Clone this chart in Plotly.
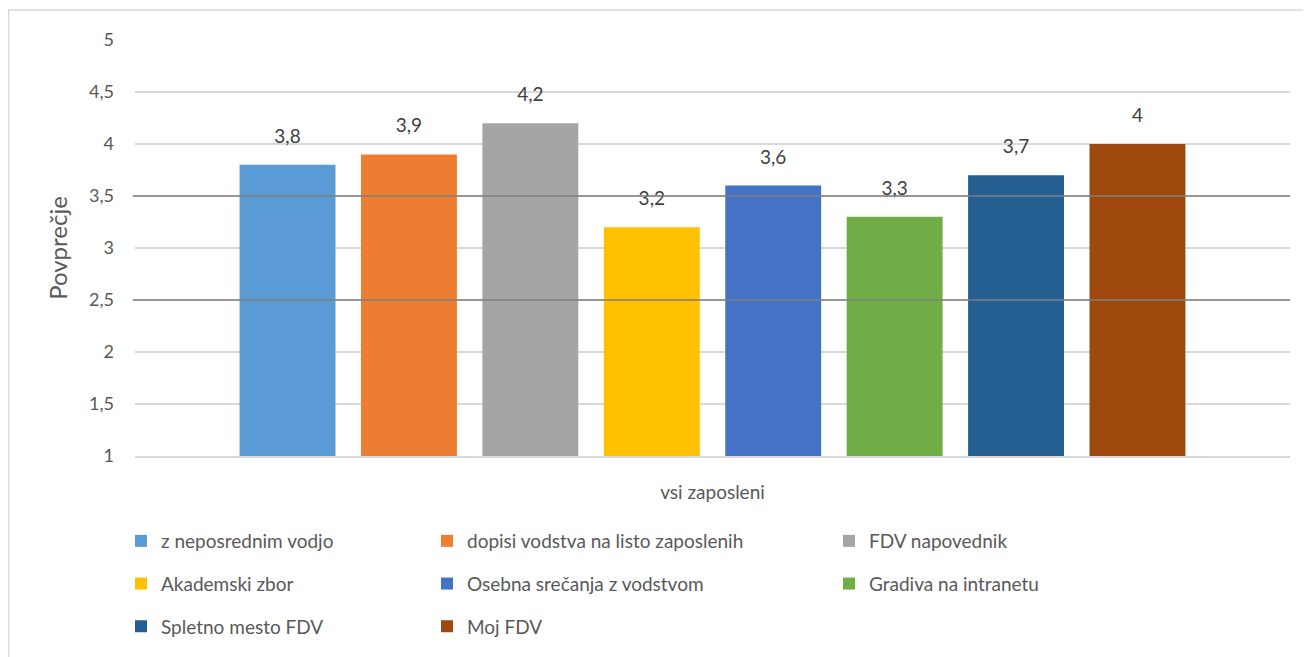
import plotly.graph_objects as go

categories = ["vsi zaposleni"]
series_names = [
    "z neposrednim vodjo",
    "dopisi vodstva na listo zaposlenih",
    "FDV napovednik",
    "Akademski zbor",
    "Osebna srečanja z vodstvom",
    "Gradiva na intranetu",
    "Spletno mesto FDV",
    "Moj FDV",
]
series_values = [3.8, 3.9, 4.2, 3.2, 3.6, 3.3, 3.7, 4.0]
series_colors = ["#5B9BD5", "#ED7D31", "#A5A5A5", "#FFC000",
                 "#4472C4", "#70AD47", "#255E91", "#9E480E"]
y_ticks = [1, 1.5, 2, 2.5, 3, 3.5, 4, 4.5, 5]
ref_lines = [2.5, 3.5]

FONT = "Lato"
GREY = "#595959"

# page body adds ~8px offset, so figure is slightly smaller than the window
W, H = 1303, 649
L, R, T, B = 127, 21, 32, 201
PW, PH = W - L - R, H - T - B


def main():
    fig = go.Figure()
    # legend columns like Excel: items 1,4,7 / 2,5,8 / 3,6
    legend_ids = ["legend", "legend2", "legend3"]
    for i, (name, val, col) in enumerate(zip(series_names, series_values, series_colors)):
        fig.add_trace(go.Bar(
            x=categories, y=[val], name=name,
            marker=dict(color=col, line=dict(width=0)),
            legend=legend_ids[i % 3],
            legendgroup=name,
        ))
    # data labels as grouped scatter text, lifted a bit above bar tops
    for name, val in zip(series_names, series_values):
        fig.add_trace(go.Scatter(
            x=categories, y=[val], mode="markers+text",
            text=[f"{val:g}".replace(".", ",")],
            textposition="top center",
            textfont=dict(family=FONT, size=19, color="#404040"),
            marker=dict(size=26, color="rgba(0,0,0,0)"),
            showlegend=False, hoverinfo="skip", cliponaxis=False,
        ))

    for yv in ref_lines:
        fig.add_shape(type="line", xref="paper", yref="y", x0=-0.002, x1=1.0, y0=yv, y1=yv,
                      line=dict(color="#7F7F7F", width=1.5), layer="above")

    # outer chart border
    fig.add_shape(type="rect", xref="paper", yref="paper",
                  x0=(0.5 - L) / PW, x1=1.2, y0=(PH + T - 2) / PH, y1=-1.0,
                  line=dict(color="#D9D9D9", width=1.5), layer="below")

    leg_common = dict(
        orientation="v", yanchor="top", xanchor="left",
        yref="container", y=1 - (522 - 8) / H,
        font=dict(family=FONT, size=19, color=GREY),
        tracegroupgap=15, bgcolor="rgba(0,0,0,0)",
        itemclick=False,
    )
    fig.update_layout(
        width=W, height=H,
        margin=dict(l=L, r=R, t=T, b=B, autoexpand=False),
        paper_bgcolor="white", plot_bgcolor="white",
        separators=",.",
        barmode="group", bargap=0.159, bargroupgap=0.21,
        scattermode="group", scattergap=0.159,
        font=dict(family=FONT, size=18, color=GREY),
        showlegend=True,
        legend=dict(x=(121 - 135) / PW, **leg_common),
        legend2=dict(x=(427 - 135) / PW, **leg_common),
        legend3=dict(x=(829 - 135) / PW, **leg_common),
        xaxis=dict(
            showline=True, linecolor="#D9D9D9", linewidth=1.5,
            showgrid=False, ticks="", ticklabelstandoff=18,
            tickfont=dict(family=FONT, size=19, color=GREY),
        ),
        yaxis=dict(
            range=[1, 5], tickvals=y_ticks,
            showgrid=True, gridcolor="#D9D9D9", gridwidth=1.5,
            zeroline=False, showline=False, ticks="",
            ticklabelstandoff=20,
            tickfont=dict(family=FONT, size=18, color=GREY),
            title=dict(text="Povprečje", font=dict(family=FONT, size=24, color=GREY), standoff=14),
        ),
    )
    fig.write_html("out.html")


if __name__ == "__main__":
    main()
